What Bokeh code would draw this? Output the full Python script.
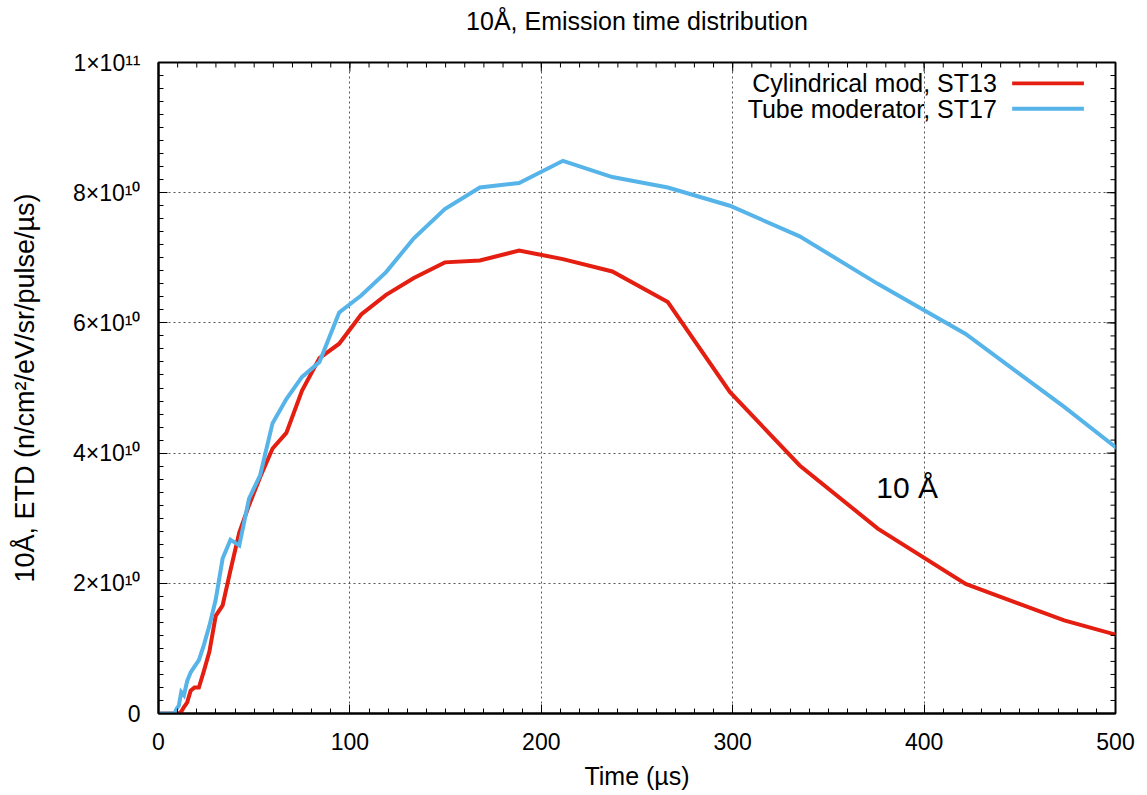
from bokeh.plotting import figure
from bokeh.models import Label, BoxAnnotation, FixedTicker, Range1d
from bokeh.embed import file_html
from bokeh.resources import INLINE

# ---- data (time in microseconds, ETD in units of 1e10) ----
time_us = [0, 8.4, 9.4, 10.6, 11.9, 13.3, 15.0, 16.8, 18.8, 21.1, 23.7, 26.6, 29.9,
           33.5, 37.6, 42.2, 47.3, 53.1, 59.6, 66.8, 75.0, 84.1, 94.4, 105.9, 118.9,
           133.4, 149.6, 167.9, 188.4, 211.3, 237.1, 266.1, 298.5, 335.0, 375.8,
           421.7, 473.2, 530.9]
cyl_st13 = [0, 0, 0, 0, 0.03, 0.10, 0.17, 0.35, 0.40, 0.40, 0.65, 0.95, 1.50,
            1.66, 2.20, 2.78, 3.20, 3.63, 4.07, 4.31, 4.96, 5.46, 5.68, 6.13, 6.43,
            6.69, 6.93, 6.96, 7.11, 6.98, 6.79, 6.32, 4.94, 3.81, 2.84,
            1.99, 1.43, 0.96]
tube_st17 = [0, 0, 0.07, 0.12, 0.33, 0.28, 0.50, 0.63, 0.72, 0.82, 1.05, 1.35, 1.75,
             2.38, 2.67, 2.58, 3.30, 3.66, 4.46, 4.83, 5.17, 5.40, 6.16, 6.42, 6.78,
             7.30, 7.75, 8.08, 8.15, 8.49, 8.24, 8.08, 7.80, 7.33, 6.60,
             5.83, 4.71, 3.38]
series_names = ["Cylindrical mod, ST13", "Tube moderator, ST17"]
series_colors = ["#e41e10", "#56b4e9"]
x_ticks = [0, 100, 200, 300, 400, 500]
x_minor = [i * 10 for i in range(0, 51)]
y_ticks = [0, 2e10, 4e10, 6e10, 8e10, 1e11]
y_minor = [i * 2e9 for i in range(0, 51)]
y_tick_labels = ["0", "2×10¹⁰", "4×10¹⁰", "6×10¹⁰", "8×10¹⁰", "1×10¹¹"]
title_text = "10Å, Emission time distribution"
x_label = "Time (µs)"
y_label = "10Å, ETD (n/cm²/eV/sr/pulse/µs)"

SCALE = 1e10
FONT = "Liberation Sans"
TICK_FS = "23px"
LAB_FS = "25px"
X0, X1 = 0, 500
Y0, Y1 = 0, 1e11
FW, FH = 957, 651
px_y = (Y1 - Y0) / FH
px_x = (X1 - X0) / FW

p = figure(frame_width=FW, frame_height=FH,
           x_range=Range1d(X0, X1), y_range=Range1d(Y0, Y1),
           output_backend="svg", toolbar_location=None,
           min_border_left=158, min_border_right=24, min_border_top=62, min_border_bottom=72,
           background_fill_color="white", border_fill_color="white")

# trailing empty line lifts the title away from the frame (gnuplot places it high)
p.title.text = title_text + "\n"
p.title.align = "center"
p.title.vertical_align = "bottom"
p.title.text_font = FONT
p.title.text_font_size = LAB_FS
p.title.text_font_style = "normal"
p.title.text_color = "black"
p.title.standoff = 0

p.outline_line_color = "black"
p.outline_line_width = 2

for ser, col in zip([cyl_st13, tube_st17], series_colors):
    p.line(time_us, [v * SCALE for v in ser], line_color=col, line_width=4, line_join="miter")

for ax in [p.xaxis[0], p.yaxis[0]]:
    ax.axis_line_color = "black"
    ax.axis_line_width = 2
    ax.major_tick_in = 9
    ax.major_tick_out = 0
    ax.minor_tick_in = 5
    ax.minor_tick_out = 0
    ax.major_tick_line_color = "black"
    ax.minor_tick_line_color = "black"
    ax.major_label_text_font = FONT
    ax.major_label_text_font_size = TICK_FS
    ax.major_label_text_color = "black"
    ax.axis_label_text_font = FONT
    ax.axis_label_text_font_style = "normal"
    ax.axis_label_text_color = "black"

p.xaxis.ticker = FixedTicker(ticks=x_ticks, minor_ticks=x_minor)
p.yaxis.ticker = FixedTicker(ticks=y_ticks, minor_ticks=y_minor)
p.yaxis.major_label_overrides = {t: l for t, l in zip(y_ticks, y_tick_labels)}
p.xaxis.axis_label = x_label
p.yaxis.axis_label = y_label
p.xaxis.axis_label_text_font_size = LAB_FS
p.yaxis.axis_label_text_font_size = "27px"
p.xaxis.major_label_standoff = 19
p.yaxis.major_label_standoff = 18
p.xaxis.axis_label_standoff = 9
p.yaxis.axis_label_standoff = 30

# mirrored inward ticks on top and right edges (gnuplot style)
p.segment(x0=x_ticks, x1=x_ticks, y0=[Y1] * len(x_ticks), y1=[Y1 - 9 * px_y] * len(x_ticks),
          line_color="black", line_width=1)
p.segment(x0=x_minor, x1=x_minor, y0=[Y1] * len(x_minor), y1=[Y1 - 5 * px_y] * len(x_minor),
          line_color="black", line_width=1)
p.segment(x0=[X1] * len(y_ticks), x1=[X1 - 9 * px_x] * len(y_ticks), y0=y_ticks, y1=y_ticks,
          line_color="black", line_width=1)
p.segment(x0=[X1] * len(y_minor), x1=[X1 - 5 * px_x] * len(y_minor), y0=y_minor, y1=y_minor,
          line_color="black", line_width=1)

p.grid.grid_line_color = "#444444"
p.grid.grid_line_dash = "2 3"
p.grid.grid_line_width = 1
p.grid.grid_line_alpha = 0.9

# legend (gnuplot style: text then line sample)
leg_rows = [9.68e10, 9.29e10]
for name, col, yv in zip(series_names, series_colors, leg_rows):
    p.add_layout(Label(x=438, y=yv, text=name, text_align="right", text_baseline="middle",
                       text_font=FONT, text_font_size=LAB_FS, text_color="black"))
    p.add_layout(BoxAnnotation(left=446, right=483.5, bottom=yv - 0.03e10, top=yv + 0.03e10,
                               fill_color=col, fill_alpha=1, line_alpha=0))

p.add_layout(Label(x=375, y=3.47e10, text="10 Å", text_align="left", text_baseline="middle",
                   text_font=FONT, text_font_size="30px", text_color="black"))

open("out.html", "w").write(file_html(p, INLINE))
